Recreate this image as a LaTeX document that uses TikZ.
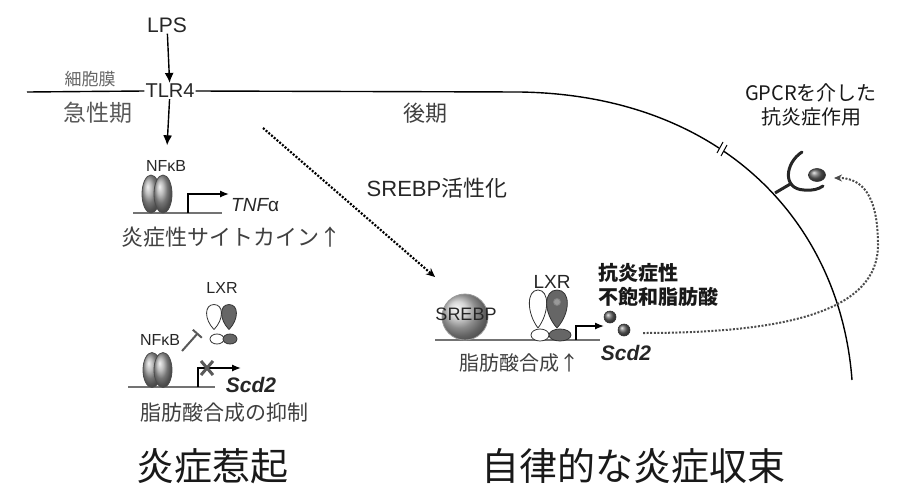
\documentclass[tikz,border=0pt]{standalone}
\usepackage{fontspec}
\setmainfont{Liberation Sans}
\newfontfamily\jp{Noto Sans CJK JP}
\usetikzlibrary{arrows.meta}
\newcommand\fsz[1]{\fontsize{#1}{#1}\selectfont}
\tikzset{
  txt/.style={inner sep=1pt, text=black!85},
  jtxt/.style={inner sep=1pt, font=\jp, text=black!75},
  dna/.style={line width=2.2pt, black!55},
  prom/.style={line width=1.3pt, -{Latex[length=9pt,width=7pt]}},
  late/.style={line width=2.2pt, dash pattern=on 2pt off 1.6pt, -{Stealth[length=9pt,width=8pt]}},
  drop/.pic={\path[pic actions] (0,10) .. controls (-11,2) and (-11,-10) .. (0,-10)
             .. controls (11,-10) and (11,2) .. (0,10);},
}
\begin{document}
\begin{tikzpicture}[x=1pt,y=-1pt,>={Latex[length=10pt,width=9pt]}]
\useasboundingbox (0,0) rectangle (899,485);

% membrane and early signalling
\node[txt] (lps) at (167,25) {\fsz{21}LPS};
\node[txt] (tlr) at (170,91) {\fsz{20}TLR4};
\node[jtxt, text=black!60] (mem) at (90,79) {\fsz{17}細胞膜};
\node[jtxt, text=black!65] (acute) at (98,113) {\fsz{23}急性期};
\node[jtxt] (late) at (425,113) {\fsz{22}後期};
\coordinate (memL) at (27,92);
\coordinate (memB) at (852,380);
\draw[line width=1.4pt] (memL) -- (tlr.west);
\draw[line width=1.4pt] (tlr.east) -- (520,92) .. controls (720,95) and (840,220) .. (memB);
\draw[->, line width=1.4pt] (lps) -- (tlr);

% break mark on the membrane
\coordinate (brk) at (722,149);
\draw[white, line width=4pt] ([shift={(-2.5,-1.5)}]brk) -- ([shift={(2.5,1.5)}]brk);
\draw[line width=1pt] ([shift={(-5,4)}]brk) -- ([shift={(1,-7)}]brk);
\draw[line width=1pt] ([shift={(-1,7)}]brk) -- ([shift={(5,-4)}]brk);

% NFkB -> TNFa
\node[txt] (nfkbA) at (166,166) {\fsz{16}NFκB};
\draw[->, line width=1.4pt, shorten >=14pt] (tlr) -- (nfkbA);
\coordinate (dnaA1) at (133,213);
\coordinate (dnaA2) at (222,213);
\coordinate (tssA) at (188,213);
\coordinate (tipA) at (229,194);
\draw[dna] (dnaA1) -- (dnaA2);
\shadedraw[ball color=black!35, draw=black!70, line width=0.8pt] (151,194) ellipse [x radius=9, y radius=19];
\shadedraw[ball color=black!35, draw=black!70, line width=0.8pt] (163,194) ellipse [x radius=9, y radius=19];
\draw[prom] (tssA) |- (tipA);
\node[txt, anchor=west] (tnf) at (230,205) {\fsz{19}\itshape TNF\upshape α};
\node[jtxt] (cyto) at (231,237) {\fsz{22}炎症性サイトカイン↑};

% LXR blocks NFkB at Scd2
\node[txt] (lxrB) at (222,288) {\fsz{16}LXR};
\pic[draw=black!80, fill=white, line width=0.8pt, xscale=0.9, yscale=1.25] at (214,317) {drop};
\pic[draw=black!80, fill=black!60, line width=0.8pt, xscale=0.9, yscale=1.25] at (229,317) {drop};
\filldraw[draw=black!80, fill=white, line width=0.8pt] (217,339) ellipse [x radius=7, y radius=5];
\filldraw[draw=black!80, fill=black!60, line width=0.8pt] (230,339) ellipse [x radius=7, y radius=5];
\node[txt] (nfkbB) at (160,340) {\fsz{16}NFκB};
\coordinate (inhS) at (182,351);
\coordinate (inhE) at (198,333);
\draw[line width=2pt, black!65, -{Bar[width=12pt]}] (inhS) -- (inhE);
\coordinate (dnaB1) at (128,387);
\coordinate (dnaB2) at (215,387);
\coordinate (tssB) at (198,387);
\coordinate (tipB) at (241,368);
\draw[dna] (dnaB1) -- (dnaB2);
\shadedraw[ball color=black!35, draw=black!70, line width=0.8pt] (152,370) ellipse [x radius=9, y radius=17.5];
\shadedraw[ball color=black!35, draw=black!70, line width=0.8pt] (163,370) ellipse [x radius=9, y radius=17.5];
\draw[prom] (tssB) |- (tipB);
\draw[line width=3pt, black!65] (201,361) -- (213,375) (213,361) -- (201,375);
\node[txt] (scdB) at (251,385) {\fsz{21}\bfseries\itshape Scd2};
\node[jtxt] (fasB) at (224,413) {\fsz{21}脂肪酸合成の抑制};

% late phase: SREBP activation
\node[txt] (srebpAct) at (437,188) {\fsz{22}SREBP{\jp 活性化}};
\coordinate (lateS) at (263,128);
\coordinate (lateE) at (435,277);
\draw[late] (lateS) -- (lateE);
\coordinate (dnaC1) at (435,340);
\coordinate (dnaC2) at (600,340);
\coordinate (tssC) at (576,340);
\coordinate (tipC) at (604,326);
\draw[dna] (dnaC1) -- (dnaC2);
\shadedraw[ball color=black!22, draw=black!40, line width=0.8pt] (465,317) circle (23);
\node[txt] (srebp) at (466,314) {\fsz{18}SREBP};
\node[txt] (lxrC) at (552,282) {\fsz{19}LXR};
\pic[draw=black!80, fill=white, line width=0.8pt, xscale=1.05, yscale=1.9] at (538,309) {drop};
\pic[draw=black!80, fill=black!60, line width=0.8pt, xscale=1.25, yscale=1.9] at (557,309) {drop};
\filldraw[draw=black!50, fill=black!40, line width=0.8pt] (557,302) circle (3.5);
\filldraw[draw=black!80, fill=white, line width=0.8pt] (540,335) ellipse [x radius=9, y radius=6];
\filldraw[draw=black!80, fill=black!60, line width=0.8pt] (560,335) ellipse [x radius=11, y radius=6];
\draw[prom] (tssC) |- (tipC);
\shadedraw[ball color=black!60, draw=black!80, line width=0.6pt] (610,317) circle (6);
\shadedraw[ball color=black!60, draw=black!80, line width=0.6pt] (624,330) circle (6);
\node[txt] (scdC) at (626,353) {\fsz{21}\bfseries\itshape Scd2};
\node[jtxt] (fasC) at (519,363) {\fsz{20}脂肪酸合成↑};
\node[jtxt, anchor=west, align=left, text=black!90] (pufa) at (597,285)
  {\fsz{20}\bfseries 抗炎症性\\[4pt]\fsz{20}\bfseries 不飽和脂肪酸};

% GPCR receptor and ligand
\node[jtxt, align=center, text=black!90] (gpcr) at (811,105)
  {\fsz{20}GPCR{\jp を介した}\\[4pt]\fsz{20}抗炎症作用};
\coordinate (rcpB) at (775,193);
\coordinate (rcpS) at (792,183);
\draw[line width=3pt, black!85] (rcpB) -- (rcpS);
\draw[line width=3pt, black!85, line cap=round] (802,152) .. controls (785,163) and (782,189) .. (804,190)
  .. controls (812,191) and (819,189) .. (823,186);
\shadedraw[ball color=black!60, draw=black!80, line width=0.6pt] (817,175) ellipse [x radius=8.5, y radius=6.5];
\coordinate (ligS) at (643,333);
\coordinate (ligE) at (834,178);
\draw[line width=2pt, black!70, dash pattern=on 2pt off 1.6pt, -{Stealth[length=8pt,width=7pt]}]
  (ligS) .. controls (790,333) and (878,310) .. (878,245) .. controls (878,195) and (862,178) .. (ligE);

% phase captions
\node[jtxt, text=black!90] (onset) at (212,466) {\fsz{38}炎症惹起};
\node[jtxt, text=black!90] (resol) at (633,466) {\fsz{38}自律的な炎症収束};
\end{tikzpicture}
\end{document}
